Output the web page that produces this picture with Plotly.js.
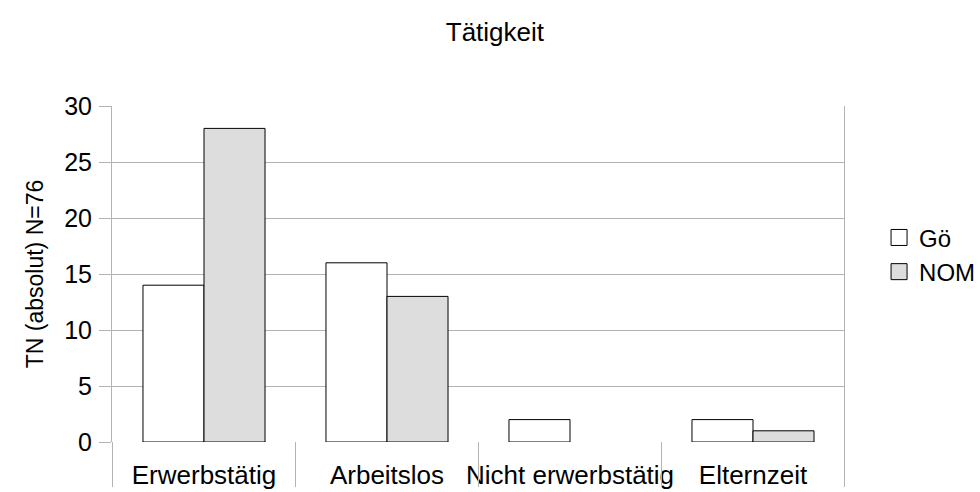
<!DOCTYPE html>
<html><head><meta charset="utf-8">
<script src="https://cdn.plot.ly/plotly-3.0.1.min.js"></script>
<style>body{margin:0}#c{width:980px;height:492px}</style>
</head><body><div id="c"></div>
<script>
const categories = ["Erwerbstätig", "Arbeitslos", "Nicht erwerbstätig", "Elternzeit"];
const seriesNames = ["Gö", "NOM"];
const valuesGo = [14, 16, 2, 2];
const valuesNOM = [28, 13, 0, 1];
const yTicks = [0, 5, 10, 15, 20, 25, 30];
const fills = ["#ffffff", "#dddddd"];

const font = "Liberation Sans, Arial, sans-serif";
const outline = vals => vals.map(v => (v === 0 ? 0 : 1));
const traces = [
  {type: "bar", name: seriesNames[0], x: categories, y: valuesGo, showlegend: false,
   marker: {color: fills[0], line: {color: "#000000", width: outline(valuesGo)}}},
  {type: "bar", name: seriesNames[1], x: categories, y: valuesNOM, showlegend: false,
   marker: {color: fills[1], line: {color: "#000000", width: outline(valuesNOM)}}},
  {type: "scatter", mode: "markers", name: seriesNames[0], x: [null], y: [null],
   marker: {symbol: "square", size: 18, color: fills[0], line: {color: "#000000", width: 1}}},
  {type: "scatter", mode: "markers", name: seriesNames[1], x: [null], y: [null],
   marker: {symbol: "square", size: 18, color: fills[1], line: {color: "#000000", width: 1}}}
];
const shapes = [];
for (let i = 0; i <= categories.length; i++) {
  shapes.push({type: "line", xref: "x", yref: "paper", x0: i - 0.5, x1: i - 0.5,
    y0: 0, y1: -0.134, line: {color: "#b3b3b3", width: 1}});
}
shapes.push({type: "line", xref: "x", yref: "paper", x0: categories.length - 0.5, x1: categories.length - 0.5,
  y0: 0, y1: 1, line: {color: "#b3b3b3", width: 1}});
const layout = {
  width: 980, height: 492,
  margin: {l: 112, r: 135, t: 106, b: 50},
  paper_bgcolor: "#ffffff", plot_bgcolor: "#ffffff",
  font: {family: font, color: "#000000", size: 25},
  title: {text: "Tätigkeit", font: {size: 26, family: font}, x: 0.505, xanchor: "center", y: 0.935, yanchor: "middle"},
  barmode: "group", bargap: 0.333, bargroupgap: 0,
  showlegend: true,
  legend: {xref: "container", yref: "container", x: 0.897, xanchor: "left", y: 0.482, yanchor: "middle",
    font: {size: 24, family: font}, tracegroupgap: 0, itemwidth: 30, bgcolor: "rgba(0,0,0,0)"},
  xaxis: {type: "category", categoryarray: categories, showgrid: false, zeroline: false, showline: false, ticks: "",
    tickfont: {size: 26, family: font}, ticklabelstandoff: 15, fixedrange: true},
  yaxis: {range: [0, 30], tickvals: yTicks, showgrid: true, gridcolor: "#b3b3b3", gridwidth: 1,
    zeroline: false, showline: true, linecolor: "#b3b3b3", linewidth: 1,
    ticks: "outside", ticklen: 12, tickcolor: "#b3b3b3", tickfont: {size: 25, family: font},
    ticklabelstandoff: 2,
    title: {text: "TN (absolut) N=76", font: {size: 23, family: font}, standoff: 14}},
  shapes: shapes
};
Plotly.newPlot("c", traces, layout, {displayModeBar: false, staticPlot: true});
</script></body></html>
